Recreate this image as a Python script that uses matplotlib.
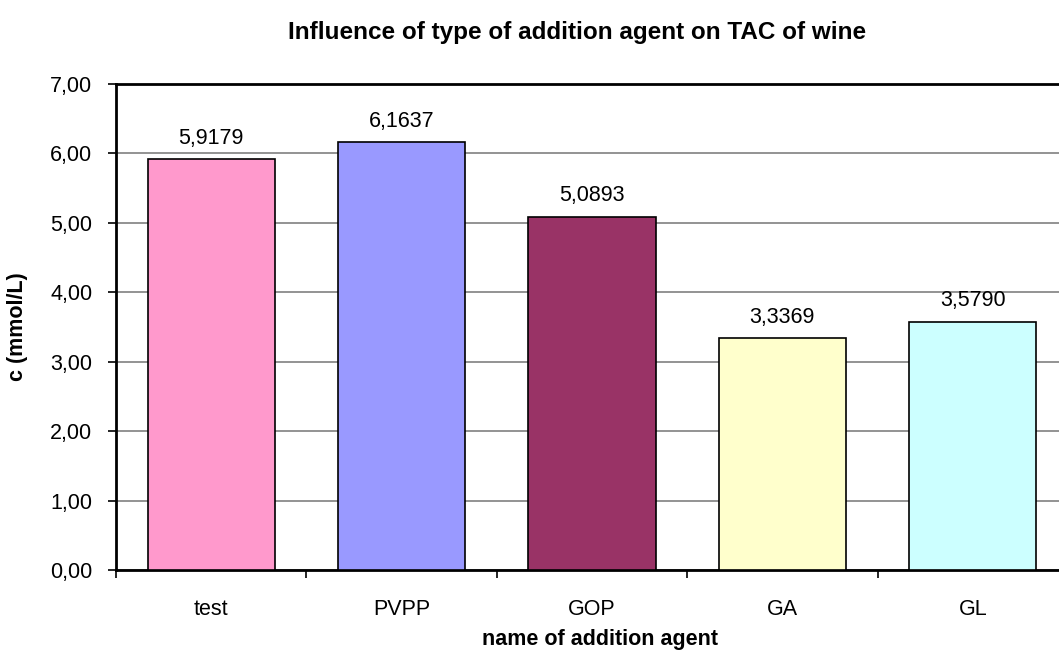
import matplotlib
matplotlib.use("Agg")
import matplotlib.pyplot as plt
import numpy as np

plt.rcParams['font.family'] = ['Liberation Sans', 'DejaVu Sans']

agentes = ["test", "PVPP", "GOP", "GA", "GL"]
valores = [5.9179, 6.1637, 5.0893, 3.3369, 3.5790]
cores = ["#FF99CC", "#9999FF", "#993366", "#FFFFCC", "#CCFFFF"]
yticks = [0, 1, 2, 3, 4, 5, 6, 7]

fig = plt.figure(figsize=(10.59, 6.52), dpi=100)
# area do grafico passa da borda direita, como no original
ax = fig.add_axes([116/1059, 82/652, 952/1059, 486/652])

x = np.arange(len(agentes))
ax.bar(x, valores, width=0.668, color=cores, edgecolor="black", linewidth=1.2, zorder=3)

for xi, v in zip(x, valores):
    ax.text(xi, v + 0.15, "{:.4f}".format(v).replace(".", ","),
            ha="center", va="bottom", fontsize=15.5)

ax.set_xlim(-0.5, len(agentes) - 0.5)
ax.set_ylim(0, 7)
ax.set_yticks(yticks)
ax.set_yticklabels(["{:.2f}".format(t).replace(".", ",") for t in yticks], fontsize=15.5)
ax.yaxis.grid(True, color="#808080", linewidth=1.2, zorder=0)

ax.set_xticks(np.arange(-0.5, len(agentes)))
ax.set_xticklabels([])
ax.set_xticks(x, minor=True)
ax.set_xticklabels(agentes, minor=True, fontsize=15.5)
ax.tick_params(axis="x", which="minor", length=0, pad=21)
ax.tick_params(axis="x", which="major", length=6, width=1.2, direction="out")
ax.tick_params(axis="y", length=6, width=1.2, direction="out", pad=11)

for s in ["left", "bottom", "top"]:
    ax.spines[s].set_linewidth(2)
    ax.spines[s].set_color("black")
ax.spines["right"].set_visible(False)

fig.text(577/1059, 1 - 33/652, "Influence of type of addition agent on TAC of wine",
         ha="center", va="center", fontsize=17.5, fontweight="bold")
fig.text(600/1059, 1 - 640/652, "name of addition agent",
         ha="center", va="center", fontsize=15.5, fontweight="bold")
fig.text(18/1059, 1 - 327/652, "c (mmol/L)", rotation=90,
         ha="center", va="center", fontsize=15.5, fontweight="bold")

fig.savefig("out.png", dpi=100)
